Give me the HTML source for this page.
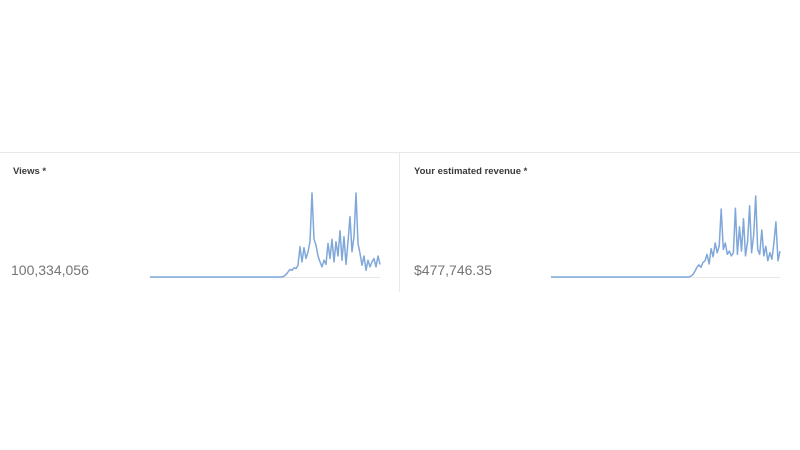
<!DOCTYPE html>
<html><head><meta charset="utf-8"><style>
html,body{margin:0;padding:0;background:#fff;width:800px;height:450px;overflow:hidden;font-family:"Liberation Sans",sans-serif;}
.topline{position:absolute;left:0;top:152px;width:800px;height:1px;background:#e8e8e8;}
.divider{position:absolute;left:399px;top:152px;width:1px;height:140px;background:#e8e8e8;}
.title{position:absolute;top:166px;font-size:9.5px;font-weight:bold;color:#3a3a3a;}
.big{position:absolute;top:262px;font-size:14px;color:#757575;}
svg{position:absolute;left:0;top:0;}
</style></head><body>
<div class="topline"></div>
<div class="divider"></div>
<div class="title" style="left:13px">Views *</div>
<div class="big" style="left:11px">100,334,056</div>
<div class="title" style="left:414px">Your estimated revenue *</div>
<div class="big" style="left:414px">$477,746.35</div>
<svg id="chart" width="800" height="450"></svg>
<script>
const viewsActive = [1,3,6,9,8,11,10,14,36,18,35,22,30,42,100,45,38,25,18,12,20,15,40,22,45,18,42,25,55,20,48,15,42,72,30,48,100,40,28,14,25,8,20,12,18,22,12,25,15];
const revenueActive = [1,3,7,12,15,12,18,20,28,16,35,25,42,30,38,84,34,42,28,32,26,30,85,28,62,32,72,26,44,88,30,52,100,34,28,58,26,38,20,30,22,42,68,20,32];
const viewsLeadZeros = 67;
const revenueLeadZeros = 69;
const views = new Array(viewsLeadZeros).fill(0).concat(viewsActive);
const revenue = new Array(revenueLeadZeros).fill(0).concat(revenueActive);
const NS = "http://www.w3.org/2000/svg";
const svg = document.getElementById('chart');
function spark(data, x0, x1, yBase, yTop, name){
  const max = Math.max(...data);
  const xs = i => x0 + (x1 - x0) * i / (data.length - 1);
  const ys = v => yBase - (yBase - yTop) * v / max;
  const base = document.createElementNS(NS,'line');
  
  
  base.setAttribute('x1', x0); base.setAttribute('x2', x1);
  base.setAttribute('y1', yBase + 0.5); base.setAttribute('y2', yBase + 0.5);
  base.setAttribute('stroke', '#e6e6e6');
  svg.appendChild(base);
  const p = document.createElementNS(NS,'polyline');
  
  
  p.setAttribute('points', data.map((v,i)=>xs(i).toFixed(1)+','+ys(v).toFixed(1)).join(' '));
  p.setAttribute('fill', 'none');
  p.setAttribute('stroke', '#7fa7da');
  p.setAttribute('stroke-width', '1.5');
  p.setAttribute('stroke-linejoin', 'round');
  svg.appendChild(p);
}
spark(views, 150, 380, 277, 193, 'views-sparkline');
spark(revenue, 551, 780, 277, 196, 'revenue-sparkline');
</script>
</body></html>
